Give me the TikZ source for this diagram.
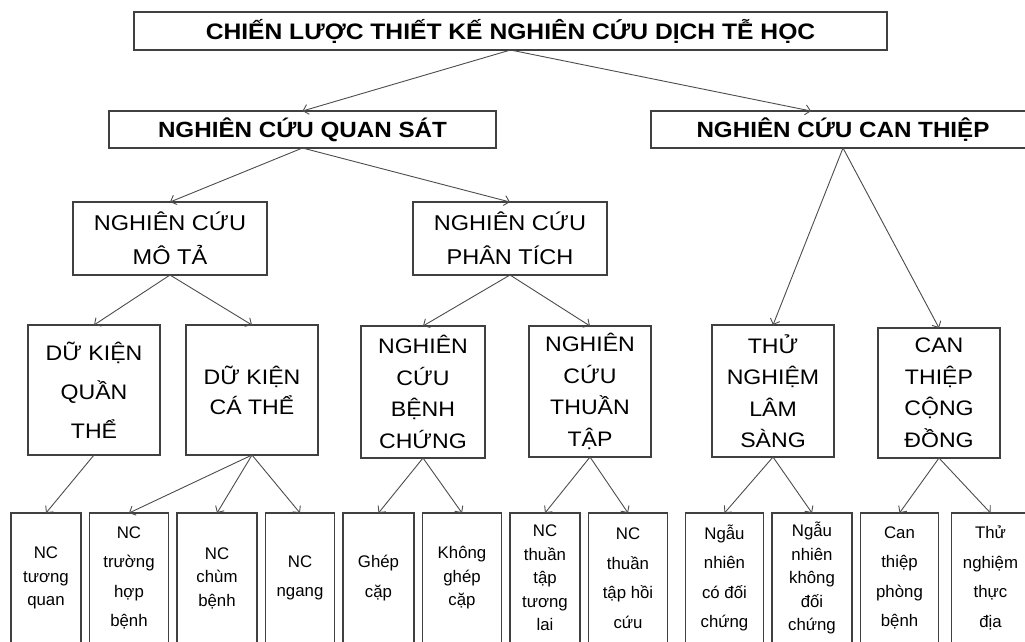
\documentclass[tikz,border=0pt]{standalone}
\usepackage{fontspec}
\setmainfont{Liberation Sans}
\newfontfamily\widesans{Liberation Sans}[FakeStretch=1.1]
\usetikzlibrary{positioning,arrows.meta}

\begin{document}
\begin{tikzpicture}[
  x=1pt, y=-1pt,
  node distance=8.5pt,
  box/.style={draw=black!75, line width=1.2pt, align=center, inner sep=0pt, outer sep=0pt},
  topbox/.style={box, minimum height=38pt, font=\widesans\bfseries\fontsize{22.4}{26}\selectfont},
  headbox/.style={box, minimum height=37pt, font=\widesans\bfseries\fontsize{22}{26}\selectfont},
  midbox/.style={box, minimum width=194pt, minimum height=73pt, font=\widesans\fontsize{21.4}{34}\selectfont},
  groupbox/.style={box, minimum width=122pt, minimum height=131pt, font=\widesans\fontsize{21}{31.5}\selectfont},
  leaf/.style={box, anchor=north, minimum width=79pt, minimum height=130pt, font=\fontsize{16.8}{29.5}\selectfont},
  leaf tight/.style={leaf, font=\fontsize{16.8}{23.5}\selectfont},
  arrow/.style={-{Straight Barb[length=5pt,width=10pt]}, draw=black!70, line width=0.9pt}
]
  \useasboundingbox (0,0) rectangle (1025,641);
  \clip (0,0) rectangle (1025,641);

  % top levels
  \node[topbox, minimum width=753pt] (title) at (510.5,31) {CHIẾN LƯỢC THIẾT KẾ NGHIÊN CỨU DỊCH TỄ HỌC};
  \node[headbox, minimum width=387pt] (obs) at (302.5,129.5) {NGHIÊN CỨU QUAN SÁT};
  \node[headbox, minimum width=384pt] (intv) at (843,129.5) {NGHIÊN CỨU CAN THIỆP};
  \node[midbox] (desc) at (170,238.5) {NGHIÊN CỨU\\MÔ TẢ};
  \node[midbox] (anal) at (510,238.5) {NGHIÊN CỨU\\PHÂN TÍCH};

  % study groups
  \node[groupbox, minimum width=132pt, minimum height=130pt, font=\widesans\fontsize{21}{39}\selectfont] (popul) at (94,390) {DỮ KIỆN\\QUẦN\\THỂ};
  \node[groupbox, minimum width=132pt, minimum height=130pt, font=\widesans\fontsize{21}{30}\selectfont] (indiv) at (252,390) {DỮ KIỆN\\CÁ THỂ};
  \node[groupbox, minimum width=124pt, minimum height=132pt] (casectl) at (423,392) {NGHIÊN\\CỨU\\BỆNH\\CHỨNG};
  \node[groupbox] (cohort) at (590,391.5) {NGHIÊN\\CỨU\\THUẦN\\TẬP};
  \node[groupbox, minimum height=132pt] (clinic) at (773,391) {THỬ\\NGHIỆM\\LÂM\\SÀNG};
  \node[groupbox, minimum height=130pt] (commun) at (939,393) {CAN\\THIỆP\\CỘNG\\ĐỒNG};

  % leaves
  \node[leaf tight, minimum width=70pt, anchor=north west] (corr) at (11,513) {NC\\tương\\quan};
  \node[leaf, right=of corr] (cases) {NC\\trường\\hợp\\bệnh};
  \node[leaf tight, minimum width=80pt, right=of cases] (cluster) {NC\\chùm\\bệnh};
  \node[leaf, minimum width=69pt, right=of cluster] (cross) {NC\\ngang};
  \node[leaf, minimum width=71pt, right=of cross] (match) {Ghép\\cặp};
  \node[leaf tight, right=of match] (nomatch) {Không\\ghép\\cặp};
  \node[leaf tight, minimum width=70pt, right=of nomatch] (prosp) {NC\\thuần\\tập\\tương\\lai};
  \node[leaf, right=of prosp] (retro) {NC\\thuần\\tập hồi\\cứu};
  \node[leaf, minimum width=78pt, right=18pt of retro] (rct) {Ngẫu\\nhiên\\có đối\\chứng};
  \node[leaf tight, minimum width=80pt, right=of rct] (nrct) {Ngẫu\\nhiên\\không\\đối\\chứng};
  \node[leaf, minimum width=78pt, right=of nrct] (prev) {Can\\thiệp\\phòng\\bệnh};
  \node[leaf, minimum width=78pt, right=13pt of prev] (field) {Thử\\nghiệm\\thực\\địa};

  % connectors
  \draw[arrow] (title.south) -- (obs.north);
  \draw[arrow] (title.south) -- ([xshift=-32pt]intv.north);
  \draw[arrow] (obs.south) -- (desc.north);
  \draw[arrow] (obs.south) -- (anal.north);
  \draw[arrow] (intv.south) -- (clinic.north);
  \draw[arrow] (intv.south) -- (commun.north);
  \draw[arrow] (desc.south) -- (popul.north);
  \draw[arrow] (desc.south) -- (indiv.north);
  \draw[arrow] (anal.south) -- (casectl.north);
  \draw[arrow] (anal.south) -- (cohort.north);
  \draw[arrow] (popul.south) -- (corr.north);
  \draw[arrow] (indiv.south) -- (cases.north);
  \draw[arrow] (indiv.south) -- (cluster.north);
  \draw[arrow] (indiv.south) -- (cross.north);
  \draw[arrow] (casectl.south) -- (match.north);
  \draw[arrow] (casectl.south) -- (nomatch.north);
  \draw[arrow] (cohort.south) -- (prosp.north);
  \draw[arrow] (cohort.south) -- (retro.north);
  \draw[arrow] (clinic.south) -- (rct.north);
  \draw[arrow] (clinic.south) -- (nrct.north);
  \draw[arrow] (commun.south) -- (prev.north);
  \draw[arrow] (commun.south) -- (field.north);
\end{tikzpicture}
\end{document}
